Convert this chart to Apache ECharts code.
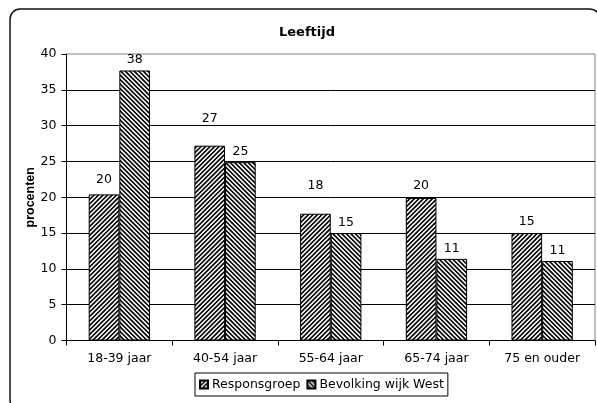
<!DOCTYPE html>
<html>
<head>
<meta charset="utf-8">
<script src="https://cdn.jsdelivr.net/npm/echarts@6/dist/echarts.min.js"></script>
<style>
html,body{margin:0;padding:0;background:#fff;}
#chart{width:597px;height:403px;}
</style>
</head>
<body>
<div id="chart"></div>
<script>
const categories = ['18-39 jaar', '40-54 jaar', '55-64 jaar', '65-74 jaar', '75 en ouder'];
const respons = [20.4, 27.2, 17.7, 19.9, 15.0];
const bevolking = [37.7, 24.9, 15.0, 11.4, 11.1];
const seriesNames = ['Responsgroep', 'Bevolking wijk West'];
const yTicks = { min: 0, max: 40, interval: 5 };

function makePattern(dir) {
  const n = 9, period = 4.5, ss = 5;
  const c = document.createElement('canvas');
  c.width = n; c.height = n;
  const ctx = c.getContext('2d');
  const img = ctx.createImageData(n, n);
  for (let y = 0; y < n; y++) {
    for (let x = 0; x < n; x++) {
      let black = 0;
      for (let sy = 0; sy < ss; sy++) {
        for (let sx = 0; sx < ss; sx++) {
          const px = x + (sx + 0.5) / ss, py = y + (sy + 0.5) / ss;
          let t = dir > 0 ? (px + py) : (px - py + 100);
          t = ((t % period) + period) % period;
          if (t < period * 0.5) black++;
        }
      }
      const v = Math.round(255 * (1 - black / (ss * ss)));
      const i = (y * n + x) * 4;
      img.data[i] = v; img.data[i + 1] = v; img.data[i + 2] = v; img.data[i + 3] = 255;
    }
  }
  ctx.putImageData(img, 0, 0);
  return { image: c, repeat: 'repeat' };
}

const font = 'DejaVu Sans';
const fs = 12.5;
const respLabelDist = [8, 20, 21, 6, 5];

const chart = echarts.init(document.getElementById('chart'), null, { renderer: 'canvas' });
chart.setOption({
  animation: false,
  backgroundColor: '#fff',
  textStyle: { fontFamily: font, color: '#000' },
  graphic: [{
    type: 'rect', z: 100, silent: true,
    shape: { x: 10, y: 9, width: 590, height: 401, r: 10 },
    style: { fill: 'none', stroke: '#111', lineWidth: 1.5 }
  }],
  title: {
    text: 'Leeftijd', left: 279, top: 26, padding: 0,
    textStyle: { fontFamily: font, fontSize: 13, fontWeight: 'bold', color: '#000' }
  },
  legend: {
    data: seriesNames, left: 195, top: 373, selectedMode: false,
    itemWidth: 8, itemHeight: 8, itemGap: 6,
    padding: [5, 4, 5, 4],
    borderColor: '#000', borderWidth: 1,
    icon: 'rect',
    textStyle: { fontFamily: font, fontSize: fs, color: '#000', padding: [0, 0, 0, -1] }
  },
  grid: {
    left: 66.5, right: 2, top: 54, bottom: 62.5,
    show: true, borderColor: '#808080', borderWidth: 1
  },
  xAxis: {
    type: 'category', data: categories,
    axisLine: { lineStyle: { color: '#000', width: 1 } },
    axisTick: { show: true, length: 5, lineStyle: { color: '#000' } },
    axisLabel: { fontFamily: font, fontSize: fs, color: '#000', margin: 12 },
    splitLine: { show: false }
  },
  yAxis: {
    type: 'value', min: yTicks.min, max: yTicks.max, interval: yTicks.interval,
    name: 'procenten', nameLocation: 'middle', nameGap: 29, nameRotate: 90,
    nameMoveOverlap: false,
    nameTextStyle: { fontFamily: 'Liberation Sans', fontSize: 12.5, fontWeight: 'bold', color: '#000' },
    axisLine: { show: true, lineStyle: { color: '#000', width: 1 } },
    axisTick: { show: true, length: 5, lineStyle: { color: '#000' } },
    axisLabel: { fontFamily: font, fontSize: fs, color: '#000', margin: 10 },
    splitLine: { show: true, showMaxLine: false, lineStyle: { color: '#000', width: 1 } }
  },
  series: [
    {
      name: seriesNames[0], type: 'bar', barGap: '0%', barCategoryGap: '42%',
      data: respons.map((v, i) => ({
        value: v,
        label: { distance: respLabelDist[i] }
      })),
      itemStyle: { color: makePattern(1), borderColor: '#000', borderWidth: 1 },
      label: {
        show: true, position: 'top', fontFamily: font, fontSize: fs, color: '#000',
        formatter: p => Math.round(p.value)
      }
    },
    {
      name: seriesNames[1], type: 'bar', barGap: '0%', barCategoryGap: '42%',
      data: bevolking,
      itemStyle: { color: makePattern(-1), borderColor: '#000', borderWidth: 1 },
      label: {
        show: true, position: 'top', distance: 4, fontFamily: font, fontSize: fs, color: '#000',
        formatter: p => Math.round(p.value)
      }
    }
  ]
});
</script>
</body>
</html>
